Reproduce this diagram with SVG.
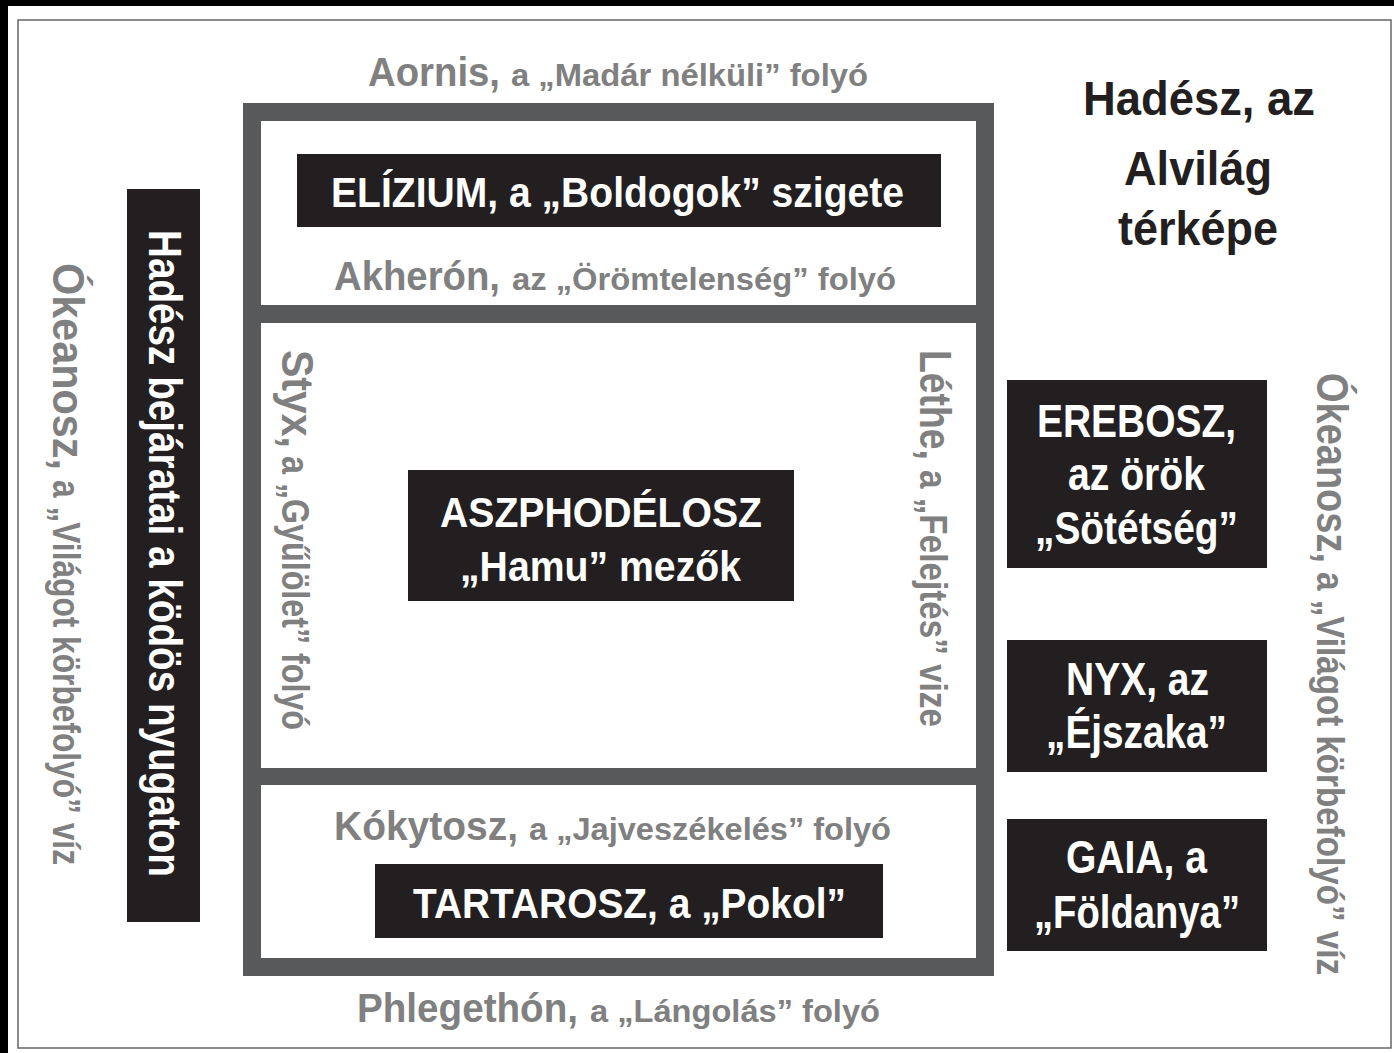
<svg xmlns="http://www.w3.org/2000/svg" width="1394" height="1053" viewBox="0 0 1394 1053">
<style>
text{font-family:"Liberation Sans",Arial,sans-serif;font-weight:bold}
.g{fill:#808080}
.w{fill:#ffffff}
.k{fill:#231f20}
.box{fill:#231f20}
.big{font-size:40px}
.sm{font-size:32px}
.vbig{font-size:45px}
.vsm{font-size:38px}
.bt{font-size:42px}
</style>
<rect x="0" y="0" width="1394" height="1053" fill="#ffffff"/>
<rect x="0" y="0" width="1394" height="6" fill="#000000"/>
<rect x="0" y="0" width="8" height="1053" fill="#000000"/>
<rect x="18" y="20" width="1373" height="1028" fill="none" stroke="#666666" stroke-width="1.5"/>

<g id="frame">
<rect x="243" y="103" width="751" height="873" fill="#58595b"/>
<rect x="261" y="121" width="715" height="184" fill="#ffffff"/>
<rect x="261" y="323" width="715" height="445" fill="#ffffff"/>
<rect x="261" y="785" width="715" height="173" fill="#ffffff"/>
</g>

<g id="aornis">
<text class="g big" x="368" y="86" textLength="132" lengthAdjust="spacingAndGlyphs">Aornis,</text>
<text class="g sm" x="511" y="86" textLength="357" lengthAdjust="spacingAndGlyphs">a „Madár nélküli” folyó</text>
</g>

<g id="elizium">
<rect class="box" x="297" y="154" width="644" height="73"/>
<text class="w bt" x="331" y="207" textLength="573" lengthAdjust="spacingAndGlyphs">ELÍZIUM, a „Boldogok” szigete</text>
</g>

<g id="akheron">
<text class="g big" x="334" y="290" textLength="166" lengthAdjust="spacingAndGlyphs">Akherón,</text>
<text class="g sm" x="512" y="290" textLength="384" lengthAdjust="spacingAndGlyphs">az „Örömtelenség” folyó</text>
</g>

<g id="styx">
<text class="g vbig" transform="translate(282,350) rotate(90)" x="0" y="0" textLength="98" lengthAdjust="spacingAndGlyphs">Styx,</text>
<text class="g vsm" transform="translate(282,456) rotate(90)" x="0" y="0" textLength="274" lengthAdjust="spacingAndGlyphs">a „Gyűlölet” folyó</text>
</g>

<g id="lethe">
<text class="g vbig" transform="translate(920,350) rotate(90)" x="0" y="0" textLength="110" lengthAdjust="spacingAndGlyphs">Léthe,</text>
<text class="g vsm" transform="translate(920,470) rotate(90)" x="0" y="0" textLength="257" lengthAdjust="spacingAndGlyphs">a „Felejtés” vize</text>
</g>

<g id="aszphodelosz">
<rect class="box" x="408" y="470" width="386" height="131"/>
<text class="w bt" x="440" y="527" textLength="322" lengthAdjust="spacingAndGlyphs">ASZPHODÉLOSZ</text>
<text class="w bt" x="460" y="581" textLength="281" lengthAdjust="spacingAndGlyphs">„Hamu” mezők</text>
</g>

<g id="kokytosz">
<text class="g big" x="334" y="840" textLength="184" lengthAdjust="spacingAndGlyphs">Kókytosz,</text>
<text class="g sm" x="529" y="840" textLength="362" lengthAdjust="spacingAndGlyphs">a „Jajveszékelés” folyó</text>
</g>

<g id="tartarosz">
<rect class="box" x="375" y="864" width="508" height="74"/>
<text class="w bt" x="413" y="918" textLength="433" lengthAdjust="spacingAndGlyphs">TARTAROSZ, a „Pokol”</text>
</g>

<g id="phlegethon">
<text class="g big" x="357" y="1022" textLength="221" lengthAdjust="spacingAndGlyphs">Phlegethón,</text>
<text class="g sm" x="590" y="1022" textLength="290" lengthAdjust="spacingAndGlyphs">a „Lángolás” folyó</text>
</g>

<g id="title">
<text class="k" font-size="48" x="1083" y="115" textLength="232" lengthAdjust="spacingAndGlyphs">Hadész, az</text>
<text class="k" font-size="48" x="1124" y="185" textLength="148" lengthAdjust="spacingAndGlyphs">Alvilág</text>
<text class="k" font-size="48" x="1118" y="245" textLength="160" lengthAdjust="spacingAndGlyphs">térképe</text>
</g>

<g id="erebosz">
<rect class="box" x="1007" y="380" width="260" height="188"/>
<text class="w" font-size="46" x="1037" y="437" textLength="199" lengthAdjust="spacingAndGlyphs">EREBOSZ,</text>
<text class="w" font-size="46" x="1068" y="490" textLength="137" lengthAdjust="spacingAndGlyphs">az örök</text>
<text class="w" font-size="46" x="1035" y="544" textLength="203" lengthAdjust="spacingAndGlyphs">„Sötétség”</text>
</g>

<g id="nyx">
<rect class="box" x="1007" y="640" width="260" height="132"/>
<text class="w" font-size="46" x="1066" y="695" textLength="143" lengthAdjust="spacingAndGlyphs">NYX, az</text>
<text class="w" font-size="46" x="1046" y="748" textLength="181" lengthAdjust="spacingAndGlyphs">„Éjszaka”</text>
</g>

<g id="gaia">
<rect class="box" x="1007" y="819" width="260" height="132"/>
<text class="w" font-size="46" x="1066" y="873" textLength="141" lengthAdjust="spacingAndGlyphs">GAIA, a</text>
<text class="w" font-size="46" x="1034" y="928" textLength="206" lengthAdjust="spacingAndGlyphs">„Földanya”</text>
</g>

<g id="bejaratok">
<rect class="box" x="127" y="189" width="73" height="733"/>
<text class="w" font-size="46" transform="translate(149,230) rotate(90)" x="0" y="0" textLength="647" lengthAdjust="spacingAndGlyphs">Hadész bejáratai a ködös nyugaton</text>
</g>

<g id="okeanosz-bal">
<text class="g vbig" transform="translate(53,263) rotate(90)" x="0" y="0" textLength="207" lengthAdjust="spacingAndGlyphs">Ókeanosz,</text>
<text class="g vsm" transform="translate(53,480) rotate(90)" x="0" y="0" textLength="385" lengthAdjust="spacingAndGlyphs">a „Világot körbefolyó” víz</text>
</g>

<g id="okeanosz-jobb">
<text class="g vbig" transform="translate(1317,373) rotate(90)" x="0" y="0" textLength="190" lengthAdjust="spacingAndGlyphs">Ókeanosz,</text>
<text class="g vsm" transform="translate(1317,572) rotate(90)" x="0" y="0" textLength="403" lengthAdjust="spacingAndGlyphs">a „Világot körbefolyó” víz</text>
</g>

<g id="connectors"></g>
</svg>
